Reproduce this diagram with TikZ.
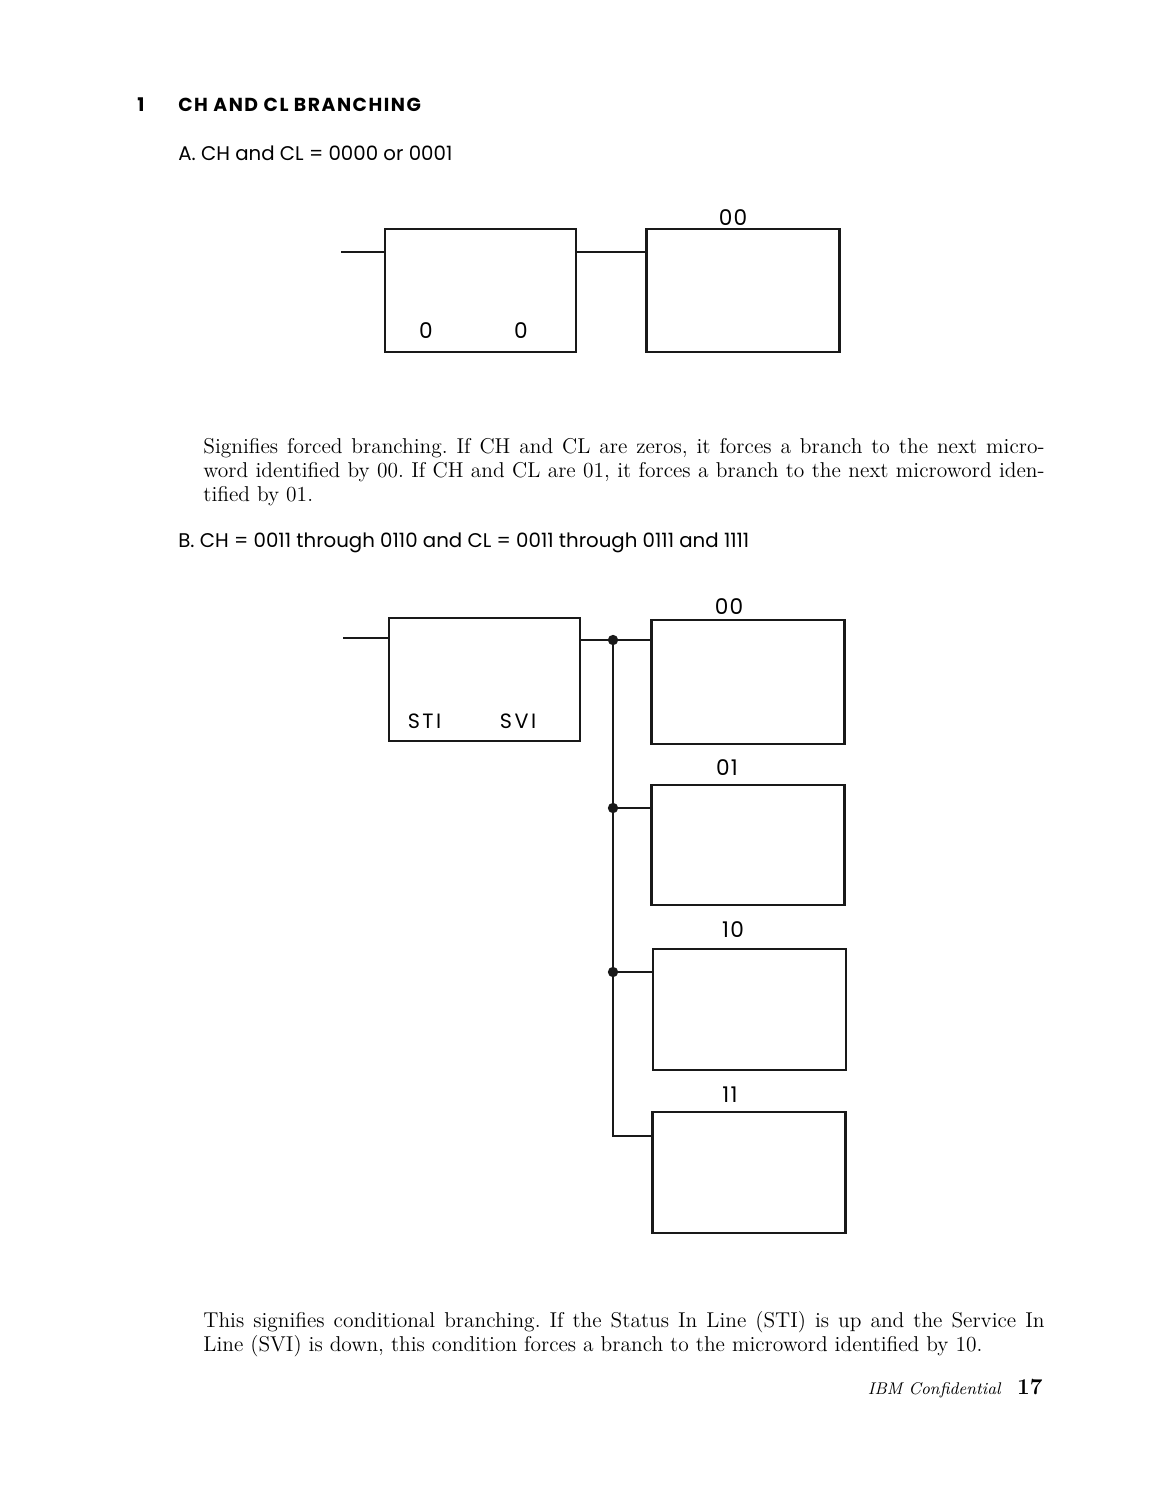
\documentclass[tikz,border=0pt]{standalone}
\usepackage{fontspec}
\usetikzlibrary{positioning}
\newfontfamily\sansfont{Poppins}
\definecolor{inkblack}{RGB}{25,25,25}

\begin{document}
\begin{tikzpicture}[x=.5314pt,y=-.5314pt,font=\sansfont\fontsize{10.5}{12}\selectfont,
box/.style={draw=inkblack,line width=1.2pt,minimum width=101.5pt,minimum height=65.4pt,inner sep=0pt},
wire/.style={line width=1.2pt,draw=inkblack},
jdot/.style={circle,fill=inkblack,inner sep=0pt,minimum size=5.5pt},
head/.style={font=\sansfont\addfontfeature{LetterSpace=8}\bfseries\fontsize{10}{12}\selectfont,anchor=base west,inner sep=0pt},
capt/.style={anchor=base west,inner sep=0pt},
addr/.style={font=\sansfont\addfontfeature{LetterSpace=6}\fontsize{11.5}{13}\selectfont,anchor=base},
cond/.style={font=\sansfont\addfontfeature{LetterSpace=12}\fontsize{11}{13}\selectfont,anchor=base},
para/.style={font=\rmfamily\frenchspacing\fontsize{11.4}{12.75}\selectfont,text width=447pt,align=justify,anchor=north west,inner sep=0pt}]
\useasboundingbox (0,0) rectangle (1156,1497);

\node[head] (secno) at (137,111) {1};
\node[head] (title) at (178,111) {CH AND CL BRANCHING};
\node[capt] (capa) at (178,160) {A.\ CH and CL = 0000 or 0001};

% forced branching
\coordinate (ina) at (341,252);
\node[box] (fa) at (480.5,290.5) {};
\node[box,minimum width=102.5pt] (fb) at (743,290.5) {};
\node[addr] (fb lbl) at (733,225) {00};
\node[addr] (fa ch) at (426,338) {0};
\node[addr] (fa cl) at (521,338) {0};
\draw[wire] (ina) -- (ina -| fa.west);
\draw[wire] (fa.east |- ina) -- (fb.west |- ina);

\node[para] (pa) at (203,438) {Signifies forced branching. If CH and CL are zeros, it forces a branch to the next micro-\linebreak word identified by 00. If CH and CL are 01, it forces a branch to the next microword iden-\linebreak tified by 01.};

\node[capt] (capb) at (178,547) {B.\ CH = 0011 through 0110 and CL = 0011 through 0111 and 1111};

% conditional branching
\coordinate (inb) at (343,638);
\node[box] (ca) at (484.5,679.5) {};
\node[box,minimum width=102.6pt,minimum height=66pt] (c00) at (748,682) {};
\node[box,minimum width=102.6pt,minimum height=63.5pt] (c01) at (748,845) {};
\node[box,minimum width=102.6pt,minimum height=64.5pt] (c10) at (749.5,1009.5) {};
\node[box,minimum width=102.6pt,minimum height=64.5pt] (c11) at (749,1172.5) {};
\node[addr] (c00 lbl) at (729,614) {00};
\node[addr] (c01 lbl) at (727,775) {01};
\node[addr] (c10 lbl) at (733,937) {10};
\node[addr] (c11 lbl) at (730,1102) {11};
\node[cond] (ca sti) at (424.5,728) {STI};
\node[cond] (ca svi) at (518,728) {SVI};
\coordinate (j00) at (613,640);
\coordinate (j01) at (613,808);
\coordinate (j10) at (613,972);
\coordinate (j11) at (613,1136);
\draw[wire] (inb) -- (inb -| ca.west);
\draw[wire] (ca.east |- j00) -- (j00) -- (c00.west |- j00);
\draw[wire] (j00) -- (j11) -- (c11.west |- j11);
\draw[wire] (j01) -- (c01.west |- j01);
\draw[wire] (j10) -- (c10.west |- j10);
\node[jdot] (d00) at (j00) {};
\node[jdot] (d01) at (j01) {};
\node[jdot] (d10) at (j10) {};

\node[para] (pb) at (203,1311) {This signifies conditional branching. If the Status In Line (STI) is up and the Service In\linebreak Line (SVI) is down, this condition forces a branch to the microword identified by 10.};

\node[font=\rmfamily\itshape\fontsize{9}{10}\selectfont,anchor=base east,inner sep=0pt] (conf) at (1001,1394) {IBM Confidential};
\node[font=\rmfamily\bfseries\fontsize{12}{14}\selectfont,anchor=base east,inner sep=0pt] (pgno) at (1043,1394) {17};
\end{tikzpicture}
\end{document}
